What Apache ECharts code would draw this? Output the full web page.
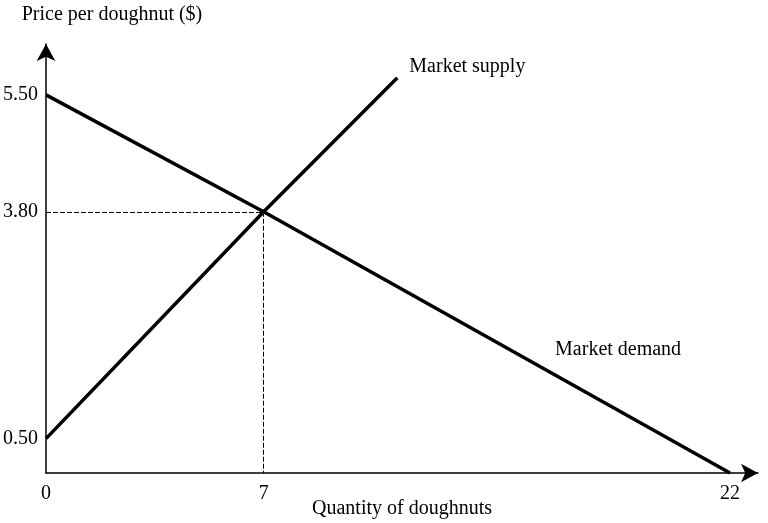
<!DOCTYPE html>
<html>
<head>
<meta charset="utf-8">
<script src="https://cdn.jsdelivr.net/npm/echarts@6/dist/echarts.min.js"></script>
<style>
  html, body { margin: 0; padding: 0; background: #fff; }
  #chart { width: 768px; height: 523px; }
</style>
</head>
<body>
<div id="chart"></div>
<script>
// quantity, price pairs
const demandPoints = [[0, 5.5], [7, 3.8], [22, 0]];
const supplyPoints = [[0, 0.5], [7, 3.8], [11.3, 5.75]];
const equilibrium = { quantity: 7, price: 3.8 };
const xTicks = [0, 7, 22];
const yTicks = [0.5, 3.8, 5.5];

const font = '"Liberation Serif", "DejaVu Serif", serif';
const ink = '#000';
const textSize = 20;

const axisArrow = {
  show: true,
  symbol: ['none', 'arrow'],
  symbolSize: [14, 17],
  lineStyle: { color: ink, width: 1.5 },
};

const chart = echarts.init(document.getElementById('chart'));

const option = {
  animation: false,
  backgroundColor: '#fff',
  grid: { left: 46, right: 10, top: 44, bottom: 50, outerBoundsMode: 'none', containLabel: false },
  xAxis: {
    type: 'value',
    min: 0,
    max: 22.9,
    name: 'Quantity of doughnuts',
    nameLocation: 'middle',
    nameGap: 36,
    nameMoveOverlap: false,
    nameTextStyle: { fontFamily: font, fontSize: textSize, color: ink, verticalAlign: 'middle' },
    axisLine: axisArrow,
    axisTick: { show: false },
    splitLine: { show: false },
    axisLabel: {
      customValues: xTicks,
      margin: 11,
      fontFamily: font,
      fontSize: textSize,
      color: ink,
    },
  },
  yAxis: {
    type: 'value',
    min: 0,
    max: 6.24,
    name: 'Price per doughnut ($)',
    nameLocation: 'end',
    nameGap: 29,
    nameMoveOverlap: false,
    nameTextStyle: {
      fontFamily: font,
      fontSize: textSize,
      color: ink,
      align: 'center',
      verticalAlign: 'middle',
      padding: [0, 0, 0, 132],
    },
    axisLine: axisArrow,
    axisTick: { show: false },
    splitLine: { show: false },
    axisLabel: {
      customValues: yTicks,
      margin: 8,
      fontFamily: font,
      fontSize: textSize,
      color: ink,
      formatter: (v) => v.toFixed(2),
    },
  },
  series: [
    {
      name: 'Market demand',
      type: 'line',
      data: demandPoints,
      showSymbol: false,
      silent: true,
      lineStyle: { color: ink, width: 3.5 },
      markPoint: {
        symbolSize: 0,
        silent: true,
        data: [{ coord: [18.4, 1.8] }],
        label: {
          show: true,
          position: 'inside',
          formatter: 'Market demand',
          fontFamily: font,
          fontSize: textSize,
          color: ink,
        },
      },
      markLine: {
        silent: true,
        symbol: 'none',
        label: { show: false },
        lineStyle: { color: ink, width: 1, type: [5, 2] },
        data: [
          [{ coord: [0, equilibrium.price] }, { coord: [equilibrium.quantity, equilibrium.price] }],
          [{ coord: [equilibrium.quantity, equilibrium.price] }, { coord: [equilibrium.quantity, 0] }],
        ],
      },
    },
    {
      name: 'Market supply',
      type: 'line',
      data: supplyPoints,
      showSymbol: false,
      silent: true,
      lineStyle: { color: ink, width: 3.5 },
      endLabel: {
        show: true,
        formatter: 'Market supply',
        distance: 12,
        offset: [0, -11],
        fontFamily: font,
        fontSize: textSize,
        color: ink,
      },
    },
  ],
};

chart.setOption(option);
</script>
</body>
</html>
